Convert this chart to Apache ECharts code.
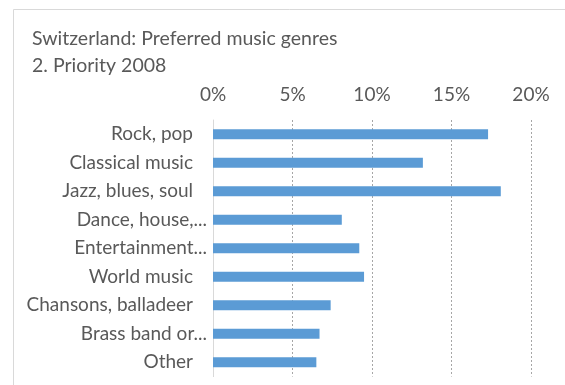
<!DOCTYPE html>
<html>
<head>
<meta charset="utf-8">
<script src="https://cdn.jsdelivr.net/npm/echarts@6/dist/echarts.min.js"></script>
<style>
  html, body { margin: 0; padding: 0; background: #fff; }
  #chart { width: 565px; height: 385px; }
</style>
</head>
<body>
<div id="chart"></div>
<script>
// Genre labels, top to bottom
const genres = [
  'Rock, pop',
  'Classical music',
  'Jazz, blues, soul',
  'Dance, house,...',
  'Entertainment...',
  'World music',
  'Chansons, balladeer',
  'Brass band or...',
  'Other'
];
// Share naming each genre as second priority (%)
const shares = [17.3, 13.2, 18.1, 8.1, 9.2, 9.5, 7.4, 6.7, 6.5];
// Percentage tick values along the top axis
const ticks = [0, 5, 10, 15, 20];

const titleLines = ['Switzerland: Preferred music genres', '2. Priority 2008'];
const FONT = 'Lato, "Open Sans", sans-serif';
const TEXT = '#595959';

const chart = echarts.init(document.getElementById('chart'), null, { renderer: 'canvas' });

chart.setOption({
  animation: false,
  backgroundColor: '#ffffff',
  graphic: [
    {
      type: 'rect',
      shape: { x: 13.5, y: 9.5, width: 600, height: 400 },
      style: { fill: 'none', stroke: '#d9d9d9', lineWidth: 1 },
      silent: true
    },
    {
      type: 'text',
      left: 32, top: 29,
      style: { text: titleLines[0], font: '19.5px ' + FONT, fill: TEXT }
    },
    {
      type: 'text',
      left: 32, top: 56,
      style: { text: titleLines[1], font: '19.5px ' + FONT, fill: TEXT }
    }
  ],
  grid: { left: 213, right: 34, top: 120, bottom: 8.5, containLabel: false },
  xAxis: {
    type: 'value',
    position: 'top',
    min: ticks[0],
    max: ticks[ticks.length - 1],
    interval: ticks[1] - ticks[0],
    axisLine: { show: false },
    axisTick: { show: false },
    axisLabel: {
      margin: 16,
      color: TEXT,
      fontFamily: FONT,
      fontSize: 19,
      formatter: v => v + '%'
    },
    splitLine: {
      show: true,
      lineStyle: { color: '#a6a6a6', type: [2, 2], width: 1 }
    }
  },
  yAxis: {
    type: 'category',
    inverse: true,
    data: genres,
    axisLine: { show: true, lineStyle: { color: '#d9d9d9', width: 1 } },
    axisTick: { show: false },
    axisLabel: {
      margin: 6,
      color: TEXT,
      fontFamily: FONT,
      fontSize: 19,
      formatter: v => v.endsWith('...') ? v : '{p|' + v + '}',
      rich: {
        p: { padding: [0, 14, 0, 0], color: TEXT, fontFamily: FONT, fontSize: 19 }
      }
    }
  },
  series: [{
    type: 'bar',
    data: shares,
    barWidth: 10,
    itemStyle: { color: '#5b9bd5' },
    z: 3
  }]
});
</script>
</body>
</html>
